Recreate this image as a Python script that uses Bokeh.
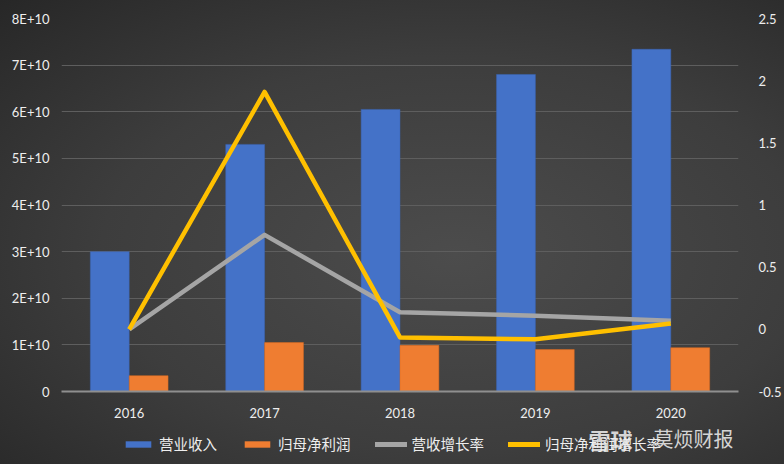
from bokeh.plotting import figure
from bokeh.layouts import column
from bokeh.models import (ColumnDataSource, Range1d, LinearAxis, FixedTicker,
                          CustomJSTickFormatter, Legend, LegendItem, Label)
from bokeh.transform import dodge
from bokeh.embed import file_html
from bokeh.resources import INLINE

years = ["2016", "2017", "2018", "2019", "2020"]
revenue = [3.0e10, 5.30e10, 6.05e10, 6.80e10, 7.34e10]
net_profit = [3.4e9, 1.05e10, 0.99e10, 0.90e10, 0.94e10]
revenue_growth = [0.0, 0.76, 0.137, 0.11, 0.07]
profit_growth = [0.0, 1.91, -0.065, -0.08, 0.047]
series_names = ["营业收入", "归母净利润", "营收增长率", "归母净利润增长率"]

left_ticks = [0, 1e10, 2e10, 3e10, 4e10, 5e10, 6e10, 7e10, 8e10]
right_ticks = [-0.5, 0, 0.5, 1, 1.5, 2, 2.5]

BLUE, ORANGE, GRAY, YELLOW = "#4472c8", "#ef7d31", "#a5a5a5", "#ffc000"
font = "Lato"
lab_color = "#eeeeee"

src = ColumnDataSource(dict(years=years, revenue=revenue, net_profit=net_profit,
                            revenue_growth=revenue_growth, profit_growth=profit_growth))

p = figure(x_range=years, y_range=Range1d(0, 8e10), width=784, height=426,
           output_backend="svg", toolbar_location=None,
           min_border_left=61, min_border_right=44, min_border_top=18, min_border_bottom=35)
p.background_fill_alpha = 0
p.border_fill_alpha = 0
p.outline_line_color = None
p.extra_y_ranges = {"rate": Range1d(-0.5, 2.5)}

p.vbar(x=dodge("years", -0.1435, range=p.x_range), top="revenue", width=0.287,
       source=src, fill_color=BLUE, line_color="#3a64b4", line_width=0.5)
p.vbar(x=dodge("years", 0.1435, range=p.x_range), top="net_profit", width=0.287,
       source=src, fill_color=ORANGE, line_color="#d86a20", line_width=0.5)
p.line(x="years", y="revenue_growth", source=src, y_range_name="rate",
       line_color=GRAY, line_width=4.5, line_join="round")
p.line(x="years", y="profit_growth", source=src, y_range_name="rate",
       line_color=YELLOW, line_width=4.5, line_join="round")

p.yaxis.ticker = FixedTicker(ticks=left_ticks)
p.yaxis.formatter = CustomJSTickFormatter(code="return tick == 0 ? '0' : (tick/1e10).toFixed(0) + 'E+10';")
p.yaxis.axis_line_color = None
p.yaxis.major_tick_line_color = None
p.yaxis.minor_tick_line_color = None
p.yaxis.major_label_standoff = 6

ra = LinearAxis(y_range_name="rate", ticker=FixedTicker(ticks=right_ticks),
                formatter=CustomJSTickFormatter(code="return String(tick);"))
ra.axis_line_color = None
ra.major_tick_line_color = None
ra.minor_tick_line_color = None
ra.major_label_standoff = 14
p.add_layout(ra, "right")

p.xaxis.axis_line_color = "#8f8f8f"
p.xaxis.axis_line_width = 2
p.xaxis.major_tick_line_color = None
p.xaxis.minor_tick_line_color = None
p.xaxis.major_label_standoff = 10

for ax in [p.xaxis[0], p.yaxis[0], ra]:
    ax.major_label_text_font = font
    ax.major_label_text_font_size = "13px"
    ax.major_label_text_color = lab_color

p.xgrid.grid_line_color = None
p.ygrid.grid_line_color = "#5e5e5e"
p.ygrid.grid_line_width = 1

# legend strip: same series drawn on ranges where they fall out of view,
# only their legend swatches are shown (frame aligns with the main plot's frame)
q = figure(width=784, height=38, output_backend="svg", toolbar_location=None,
           x_range=years, y_range=Range1d(2e11, 3e11),
           x_axis_type=None, y_axis_type=None,
           min_border=0, min_border_left=0, min_border_right=0,
           min_border_top=0, min_border_bottom=0)
q.extra_y_ranges = {"rate": Range1d(20, 30)}
q.grid.grid_line_color = None
q.outline_line_color = None
q.background_fill_alpha = 0
q.border_fill_alpha = 0

r1 = q.vbar(x="years", top="revenue", width=0.1, source=src,
            fill_color=BLUE, line_color=None)
r2 = q.vbar(x="years", top="net_profit", width=0.1, source=src,
            fill_color=ORANGE, line_color=None)
r3 = q.line(x="years", y="revenue_growth", source=src, y_range_name="rate",
            line_color=GRAY, line_width=5, line_cap="round")
r4 = q.line(x="years", y="profit_growth", source=src, y_range_name="rate",
            line_color=YELLOW, line_width=5, line_cap="round")

legend = Legend(items=[LegendItem(label=n, renderers=[r]) for n, r in zip(series_names, [r1, r2, r3, r4])],
                orientation="horizontal", location=(61, 10))
legend.background_fill_alpha = 0
legend.border_line_color = None
legend.label_text_font = "Noto Sans CJK SC"
legend.label_text_font_size = "14.5px"
legend.label_text_color = lab_color
legend.glyph_width = 32
legend.glyph_height = 8
legend.spacing = 24
legend.label_standoff = 5
legend.padding = 2
legend.margin = 0
q.add_layout(legend)

wm1 = Label(x=527, y=26, x_units="screen", y_units="screen", text="雪球",
            text_baseline="middle", text_font="Noto Sans CJK SC", text_font_style="bold",
            text_font_size="22px", text_color="#f2f2f2", text_alpha=0.85)
wm2 = Label(x=592, y=26, x_units="screen", y_units="screen", text="莫烦财报",
            text_baseline="middle", text_font="Noto Sans CJK SC",
            text_font_size="20px", text_color="#f2f2f2", text_alpha=0.85)
q.add_layout(wm1)
q.add_layout(wm2)

layout = column(p, q, spacing=0,
                styles={"background": "radial-gradient(ellipse at 58% 55%, #4c4c4c 0%, #3d3d3d 55%, #272727 100%)"})

open("out.html", "w").write(file_html(layout, INLINE))
